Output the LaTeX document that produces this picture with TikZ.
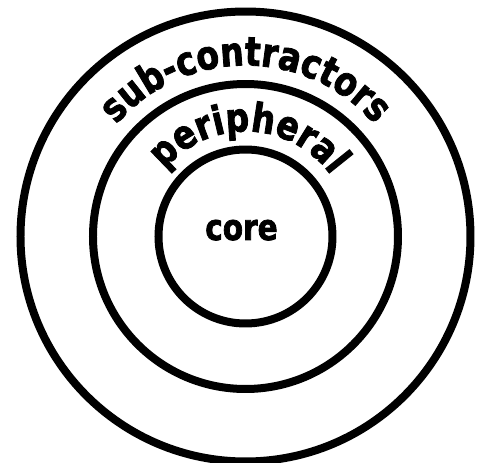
\documentclass[tikz,border=0pt]{standalone}
\usepackage{fontspec}
\newfontfamily\lblfont[FakeStretch=0.82,FakeBold=2]{DejaVu Sans}
\usetikzlibrary{decorations.text}
\newcommand{\arcfont}{\lblfont\bfseries\fontsize{22.8}{26}\selectfont}
\begin{document}
\begin{tikzpicture}[line width=4.55pt]
\tikzstyle{ring}=[draw,circle,inner sep=0pt,outer sep=0pt]
\useasboundingbox (-4.91,-4.53) rectangle (4.69,4.73);
\node[ring,minimum size=9cm] (sub) at (0,0) {};
\node[ring,minimum size=6.1cm] (per) at (0,0) {};
\node[ring,minimum size=3.48cm] (core) at (0,0) {};
\node[anchor=base,font=\lblfont\bfseries\fontsize{20.5}{24}\selectfont] (corelbl) at (-0.08,-0.07) {core};
% labels along the rings
\path[decorate,decoration={text along path,text align=center,text={|\arcfont|sub-contractors}}] (180:3.42) arc[start angle=180,end angle=0,radius=3.42];
\path[decorate,decoration={text along path,text align=center,text={|\arcfont|peripheral}}] (178:2.1) arc[start angle=178,end angle=-2,radius=2.1];
\end{tikzpicture}
\end{document}
